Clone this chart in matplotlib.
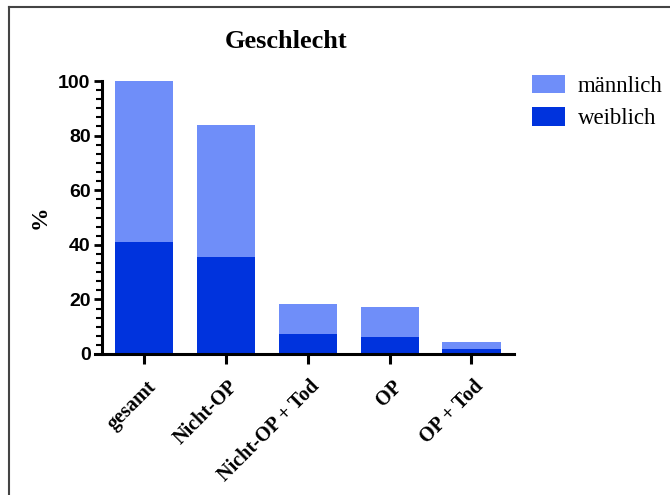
import matplotlib
matplotlib.use("Agg")
import matplotlib.pyplot as plt
from matplotlib.ticker import AutoMinorLocator
from matplotlib.lines import Line2D
from matplotlib.patches import Patch
import matplotlib.transforms as mtransforms

categories = ["gesamt", "Nicht-OP", "Nicht-OP + Tod", "OP", "OP + Tod"]
weiblich = [41.0, 35.4, 7.2, 6.1, 1.9]
maennlich = [59.0, 48.4, 11.2, 11.0, 2.6]
yticks = [0, 20, 40, 60, 80, 100]

c_m = "#6f8ef9"
c_w = "#0033dd"

W, H = 670, 495
fig = plt.figure(figsize=(W / 100, H / 100), dpi=100)
fig.patch.set_facecolor("white")

# frame lines (top and left)
fig.add_artist(Line2D([9 / W, 9 / W], [0, 1 - 7 / H], transform=fig.transFigure, color="#444444", lw=1.5))
fig.add_artist(Line2D([9 / W, 1], [1 - 7 / H, 1 - 7 / H], transform=fig.transFigure, color="#444444", lw=1.5))

ax = fig.add_axes([101.7 / W, 1 - 354 / H, (514 - 101.7) / W, (354 - 81) / H])
x = list(range(len(categories)))
ax.bar(x, weiblich, width=0.71, color=c_w, label="weiblich", zorder=2)
ax.bar(x, maennlich, width=0.71, bottom=weiblich, color=c_m, label="männlich", zorder=2)

ax.set_xlim(-0.52, 4.52)
ax.set_ylim(0, 100)
ax.set_yticks(yticks)
ax.yaxis.set_minor_locator(AutoMinorLocator(6))
ax.spines["top"].set_visible(False)
ax.spines["right"].set_visible(False)
for s in ("left", "bottom"):
    ax.spines[s].set_linewidth(2.2)
    ax.spines[s].set_color("black")
ax.spines["bottom"].set_bounds(-0.6, 4.52)
ax.spines["bottom"].set_zorder(3)

ax.tick_params(axis="y", which="major", length=6, width=2, labelsize=14, pad=2)
ax.tick_params(axis="y", which="minor", length=4, width=1.5)
ax.tick_params(axis="x", which="major", length=7, width=2.2)
for lab in ax.get_yticklabels():
    lab.set_fontweight("bold")
    lab.set_family("Liberation Sans")

ax.set_xticks(x)
ax.set_xticklabels(categories, rotation=45, ha="right", va="top", rotation_mode="anchor",
                   fontsize=14.5, fontweight="bold", family="Liberation Serif")
offset = mtransforms.ScaledTranslation(2 / 100, -8 / 100, fig.dpi_scale_trans)
for lab in ax.get_xticklabels():
    lab.set_transform(lab.get_transform() + offset)

fig.text(286 / W, 1 - 42 / H, "Geschlecht", ha="center", va="center", fontsize=19,
         fontweight="bold", family="Liberation Serif")
fig.text(40 / W, 1 - 217 / H, "%", ha="center", va="center", rotation=90, fontsize=17,
         fontweight="bold", family="Liberation Serif")

handles = [Patch(facecolor=c_m, label="männlich"), Patch(facecolor=c_w, label="weiblich")]
fig.legend(handles=handles, loc="upper left", bbox_to_anchor=(532 / W, 1 - 75 / H),
           frameon=False, borderpad=0, borderaxespad=0, handlelength=1.45, handleheight=0.85,
           handletextpad=0.55, labelspacing=0.45,
           prop={"family": "Liberation Serif", "size": 16.5})

fig.savefig("out.png", dpi=100, facecolor="white")
